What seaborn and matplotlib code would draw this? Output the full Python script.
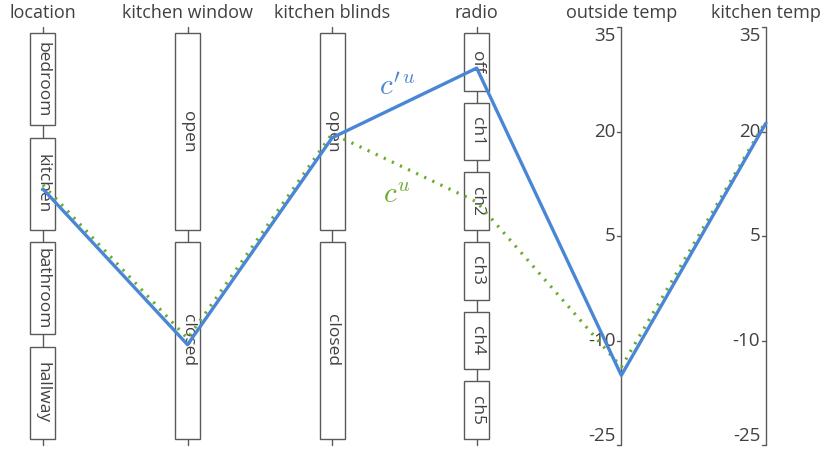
import pandas as pd
import matplotlib.pyplot as plt
import seaborn as sns
from matplotlib.patches import Rectangle

sns.set_theme(style="white")
plt.rcParams['font.family'] = ['Open Sans', 'DejaVu Sans']
plt.rcParams['mathtext.fontset'] = 'cm'

# axes of the parallel-coordinates plot
axis_names = ['location', 'kitchen window', 'kitchen blinds', 'radio', 'outside temp', 'kitchen temp']
location_cats = ['bedroom', 'kitchen', 'bathroom', 'hallway']
window_cats = ['open', 'closed']
blinds_cats = ['open', 'closed']
radio_cats = ['off', 'ch1', 'ch2', 'ch3', 'ch4', 'ch5']
temp_ticks = [-25, -10, 5, 20, 35]
temp_min, temp_max = -25, 35

# two records: category picked on each categorical axis + offset inside the box (0=top,1=bottom)
blue_cats = ['kitchen', 'closed', 'open', 'off']
blue_offsets = [0.55, 0.52, 0.53, 0.59]
blue_temps = [-15, 21.2]
green_cats = ['kitchen', 'closed', 'open', 'ch2']
green_offsets = [0.51, 0.49, 0.51, 0.51]
green_temps = [-13.8, 21.5]

cat_axes = [location_cats, window_cats, blinds_cats, radio_cats]

grey = '#5a5a5a'
text_col = '#404040'
blue = '#4a86d6'
green = '#6cac2c'


def to_frame(cats, offsets, temps, name):
    vals = []
    for levels, c, off in zip(cat_axes, cats, offsets):
        n = len(levels)
        vals.append(1 - (levels.index(c) + off) / n)
    for t in temps:
        vals.append((t - temp_min) / (temp_max - temp_min))
    return pd.DataFrame({'axis': range(len(axis_names)), 'value': vals, 'record': name})


df_blue = to_frame(blue_cats, blue_offsets, blue_temps, 'blue')
df_green = to_frame(green_cats, green_offsets, green_temps, 'green')

fig = plt.figure(figsize=(8.31, 4.54), dpi=100)
ax = fig.add_axes([0, 0, 1, 1])

box_w = 0.173
pad = 0.0144
for i, levels in enumerate(cat_axes):
    n = len(levels)
    ax.plot([i, i], [0, 1], color=grey, lw=1, zorder=1)
    for j, lab in enumerate(levels):
        top = 1 - j / n - pad
        bot = 1 - (j + 1) / n + pad
        ax.add_patch(Rectangle((i - box_w / 2, bot), box_w, top - bot,
                               facecolor='white', edgecolor=grey, lw=1, zorder=2))
        ax.text(i, (top + bot) / 2, lab, rotation=-90, ha='center', va='center',
                fontsize=12.5, color=text_col, zorder=3)

for i in (4, 5):
    ax.plot([i, i], [0, 1], color=grey, lw=1, zorder=1)
    for t in temp_ticks:
        v = (t - temp_min) / (temp_max - temp_min)
        ax.plot([i - 0.028, i], [v, v], color=grey, lw=1, zorder=1)
        va = 'top' if t == temp_max else ('bottom' if t == temp_min else 'center')
        ax.text(i - 0.04, v, str(t), ha='right', va=va, fontsize=13.5, color=text_col)

for i, name in enumerate(axis_names):
    ax.text(i, 1.033, name, ha='center', va='center', fontsize=13, color=text_col)

sns.lineplot(data=df_green, x='axis', y='value', sort=False, color=green, lw=2.3,
             linestyle=(0, (0.7, 2.1)), ax=ax, zorder=4, legend=False)
sns.lineplot(data=df_blue, x='axis', y='value', sort=False, color=blue, lw=2.4,
             ax=ax, zorder=5, legend=False)

ax.text(2.45, 0.856, r"$c'^{u}$", color=blue, fontsize=21, ha='center', va='center')
ax.text(2.45, 0.598, r"$c^{u}$", color=green, fontsize=21, ha='center', va='center')

ax.set_xlim(-0.297, 5.45)
ax.set_ylim(-0.0215, 1.0646)
ax.axis('off')

fig.savefig('out.png', dpi=100)
